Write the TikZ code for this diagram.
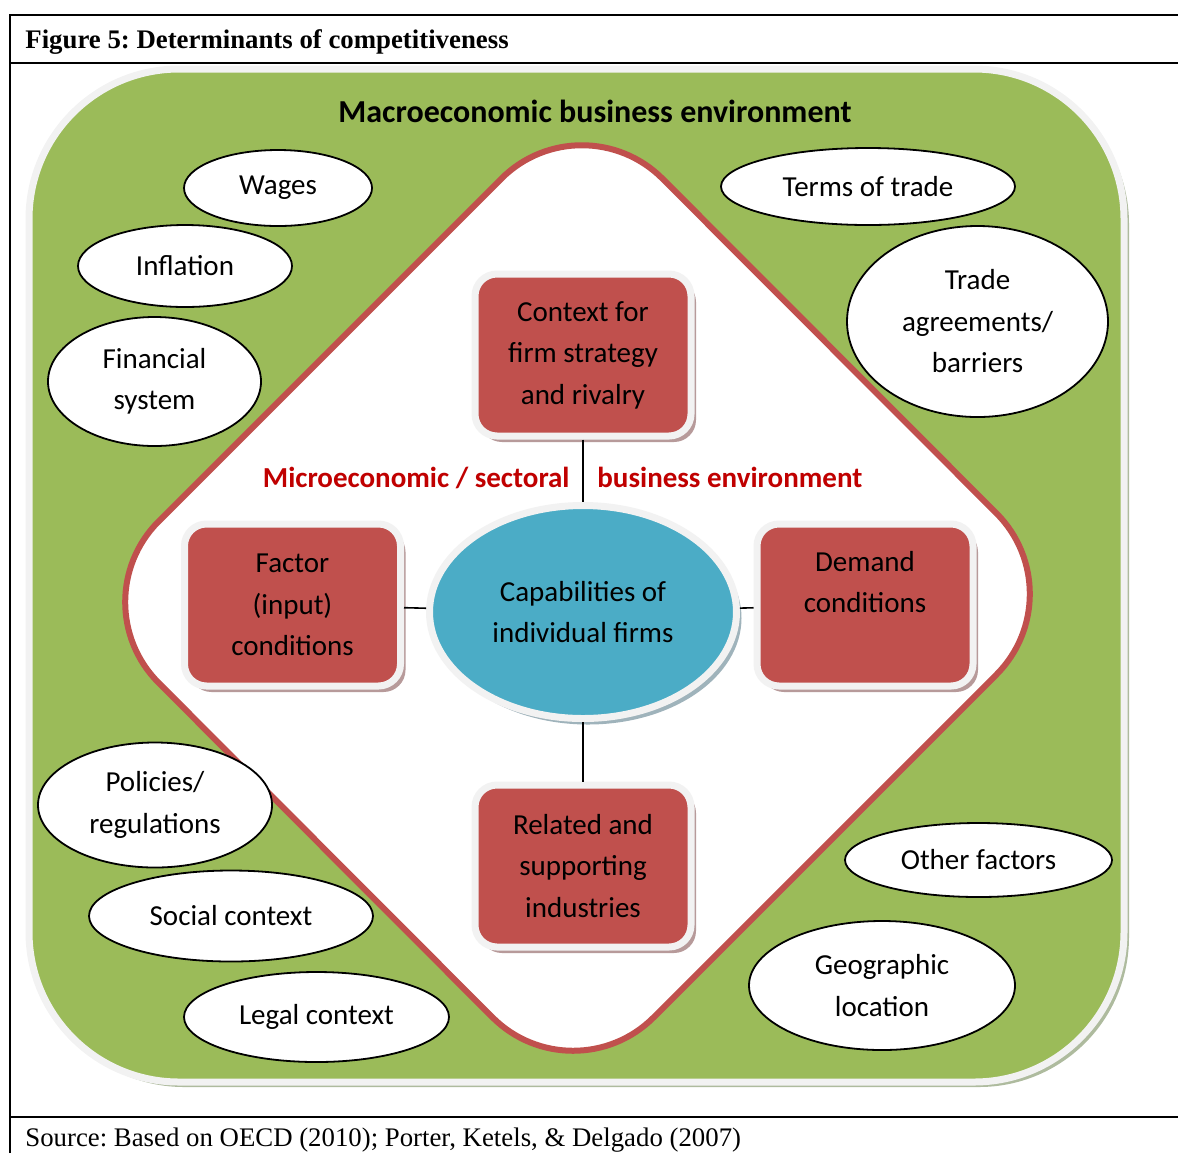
\documentclass[tikz,border=0pt]{standalone}
\usepackage{fontspec}
\setmainfont{Carlito}
\newfontfamily\reportfont{Liberation Serif}
\usepackage{tikz}
\usetikzlibrary{shapes,shadows}
\definecolor{macrogreen}{HTML}{9BBB59}
\definecolor{porterred}{HTML}{C0504D}
\definecolor{firmblue}{HTML}{4BACC6}
\definecolor{microred}{HTML}{C00000}
\definecolor{rimgrey}{HTML}{F2F2F2}
\definecolor{envshadow}{HTML}{AEBB9E}
\definecolor{boxshadow}{HTML}{B79A9A}
\definecolor{capshadow}{HTML}{9FB3BB}
\newcommand\diagfont{\fontsize{14.5}{20.75}\selectfont}
\newcommand\reportsize{\fontsize{13.4}{16}\selectfont}
\tikzstyle{factor}=[ellipse,draw,fill=white,line width=0.9pt,inner sep=0pt,align=center,font=\diagfont]
\tikzstyle{driver}=[rectangle,rounded corners=11pt,fill=porterred,draw=rimgrey,line width=3.5pt,minimum width=108pt,minimum height=81pt,inner sep=0pt,align=center,font=\diagfont,drop shadow={shadow xshift=2.5pt,shadow yshift=-3pt,fill=boxshadow,opacity=1}]
\tikzstyle{link} = [draw,line width=0.8pt]
\tikzstyle{microlabel} = [text=microred,inner sep=0pt,font=\bfseries\diagfont]
\tikzstyle{report} = [anchor=base west,inner sep=0pt]

\begin{document}
\frenchspacing
\begin{tikzpicture}[x=0.5pt,y=-0.5pt]
    \useasboundingbox (0,0) rectangle (1178,1153);

    % frame of the figure
    \draw[line width=1pt] (10,1153) -- (10,15) -- (1178,15);
    \draw[line width=1pt] (10,63) -- (1178,63);
    \draw[line width=1pt] (10,1117) -- (1178,1117);
    \node[report,font=\reportfont\bfseries\reportsize] (title) at (25,48) {Figure 5: Determinants of competitiveness};
    \node[report,font=\reportfont\reportsize] (source) at (25,1146) {Source: Based on OECD (2010); Porter, Ketels, \& Delgado (2007)};

    % macro and micro environment
    \draw[fill=macrogreen,draw=rimgrey,line width=3.5pt,rounded corners=75pt,
          drop shadow={shadow xshift=2.5pt,shadow yshift=-2.5pt,fill=envshadow,opacity=1}]
          (29,69) rectangle (1124,1082);
    \draw[fill=white,draw=porterred,line width=3pt,rounded corners=57pt]
          (582,98) -- (1077,594) -- (573,1098) -- (78,602) -- cycle;
    \node[anchor=base,font=\bfseries\fontsize{16}{19}\selectfont] (macro) at (595,122) {Macroeconomic business environment};

    \foreach \pos/\name/\w/\h/\txt in {{(278,188)/wages/94pt/38pt/Wages},
        {(185,266)/inflation/107pt/41pt/Inflation},
        {(154.5,381.5)/finance/106.5pt/64.5pt/{Financial\\system}},
        {(868,186.5)/terms/147pt/38.5pt/Terms of trade},
        {(977.5,321.5)/trade/130.5pt/95.5pt/{Trade\\agreements/\\barriers}},
        {(155,805)/policies/117pt/62.5pt/{Policies/\\regulations}},
        {(231,916)/social/142pt/45.5pt/Social context},
        {(316.5,1017)/legal/132.5pt/45pt/Legal context},
        {(978.5,860)/other/133.5pt/37pt/Other factors},
        {(882,985.5)/geo/133pt/64.5pt/{Geographic\\location}}}
        \node[factor,minimum width=\w,minimum height=\h] (\name) at \pos {\txt};

    % diamond of drivers round the firm
    \node[ellipse,fill=firmblue,draw=rimgrey,line width=3.5pt,minimum width=153.5pt,minimum height=106.5pt,
          inner sep=0pt,align=center,font=\diagfont,
          drop shadow={shadow xshift=2.5pt,shadow yshift=-3pt,fill=capshadow,opacity=1}]
          (cap) at (583,612) {Capabilities of\\individual firms};
    \foreach \pos/\name/\txt in {{(583,355)/context/{Context for\\firm strategy\\and rivalry}},
        {(292.5,605)/input/{Factor\\(input)\\conditions}},
        {(865,605)/demand/{Demand\\conditions\\\phantom{y}}},
        {(583,866)/related/{Related and\\supporting\\industries}}}
        \node[driver] (\name) at \pos {\txt};

    \foreach \source/\dest in {context/cap, input/cap, cap/demand, cap/related}
        \path[link] (\source) -- (\dest);

    \node[microlabel,anchor=base east] (micro) at (570,487) {Microeconomic / sectoral};
    \node[microlabel,anchor=base west] (sector) at (597,487) {business environment};
\end{tikzpicture}
\end{document}
